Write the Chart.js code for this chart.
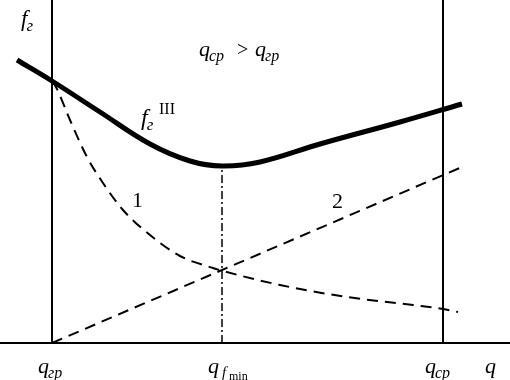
<!DOCTYPE html>
<html>
<head>
<meta charset="utf-8">
<script src="https://cdn.jsdelivr.net/npm/chart.js@4/dist/chart.umd.min.js"></script>
<style>
  body { margin: 0; background: #fff; }
  #wrap { width: 510px; height: 380px; }
</style>
</head>
<body>
<div id="wrap"><canvas id="fig"></canvas></div>
<script>
// q positions of the marked points on the q axis
const qGr = 52
const qFmin = 222
const qSr = 443
const qEnd = 510
const fTop = 343

// thick curve f_г^III
const fTotalQ = [17, 52, 100, 150, 190, 222, 260, 320, 400, 462]
const fTotal = [283, 262, 231, 199, 182, 177, 181, 199, 221, 239]

// dashed curve 1
const curve1Q = [52, 57, 70, 87, 103, 123, 150, 180, 213, 223, 280, 347, 413, 443, 458]
const curve1 = [262, 254, 223, 186, 160, 133, 108, 87, 75, 72, 58, 46, 38, 34, 31]

// dashed line 2
const line2Q = [52, 462]
const line2 = [0, 176]

const pts = (xs, ys) => xs.map((x, i) => ({ x: x, y: ys[i] }))

const ink = '#000'

const textPlugin = {
  id: 'figText',
  afterDraw(chart) {
    const c = chart.ctx
    const xs = chart.scales.x
    const serif = '"Liberation Serif", "DejaVu Serif", serif'
    c.save()
    c.fillStyle = ink
    c.textAlign = 'left'
    c.textBaseline = 'alphabetic'

    const sub = (x, y, main, s, size) => {
      c.font = 'italic ' + size + 'px ' + serif
      c.fillText(main, x, y)
      const w = c.measureText(main).width
      c.font = 'italic ' + Math.round(size * 0.72) + 'px ' + serif
      c.fillText(s, x + w - 1, y + 5)
    }

    // axis name
    sub(21, 26, 'f', 'г', 23)

    // condition
    sub(199, 56, 'q', 'ср', 22)
    c.font = '20px ' + serif
    c.fillText('>', 237, 56)
    sub(255, 56, 'q', 'гр', 22)

    // curve names
    sub(141, 125, 'f', 'г', 24)
    c.font = '16px ' + serif
    c.fillText('III', 159, 114)
    c.font = '22px ' + serif
    c.fillText('1', 132, 207)
    c.fillText('2', 332, 208)

    // q axis labels
    sub(xs.getPixelForValue(qGr) - 14, 373, 'q', 'гр', 22)
    sub(xs.getPixelForValue(qSr) - 18, 373, 'q', 'ср', 22)
    c.font = 'italic 22px ' + serif
    const xf = xs.getPixelForValue(qFmin) - 14
    c.fillText('q', xf, 373)
    c.font = 'italic 15px ' + serif
    c.fillText('f', xf + 14, 377)
    c.font = '12px ' + serif
    c.fillText('min', xf + 21, 380)
    c.font = 'italic 22px ' + serif
    c.fillText('q', 485, 373)
    c.restore()
  }
}

const ctx = document.getElementById('fig')

new Chart(ctx, {
  type: 'scatter',
  data: {
    datasets: [
      {
        label: 'q axis',
        data: pts([0, qEnd], [0, 0]),
        borderColor: ink, borderWidth: 2
      },
      {
        label: 'q_гр',
        data: pts([qGr, qGr], [0, fTop]),
        borderColor: ink, borderWidth: 2
      },
      {
        label: 'q_ср',
        data: pts([qSr, qSr], [0, fTop]),
        borderColor: ink, borderWidth: 2
      },
      {
        label: 'q_fmin',
        data: pts([qFmin, qFmin], [0, fTotal[fTotalQ.indexOf(qFmin)] - 2]),
        borderColor: ink, borderWidth: 1.5,
        borderDash: [8, 3, 2, 3]
      },
      {
        label: '1',
        data: pts(curve1Q, curve1),
        borderColor: ink, borderWidth: 2,
        borderDash: [11, 7],
        cubicInterpolationMode: 'monotone'
      },
      {
        label: '2',
        data: pts(line2Q, line2),
        borderColor: ink, borderWidth: 2,
        borderDash: [11, 7]
      },
      {
        label: 'f_г^III',
        data: pts(fTotalQ, fTotal),
        borderColor: ink, borderWidth: 5,
        tension: 0.4
      }
    ].map(d => Object.assign({ showLine: true, pointRadius: 0, clip: false, borderCapStyle: 'butt' }, d))
  },
  options: {
    responsive: true,
    maintainAspectRatio: false,
    animation: false,
    layout: { padding: { left: 0, right: 0, top: 0, bottom: 37 } },
    scales: {
      x: { type: 'linear', min: 0, max: qEnd, display: false },
      y: { type: 'linear', min: 0, max: fTop, display: false }
    },
    plugins: {
      legend: { display: false },
      tooltip: { enabled: false }
    }
  },
  plugins: [textPlugin]
})
</script>
</body>
</html>
